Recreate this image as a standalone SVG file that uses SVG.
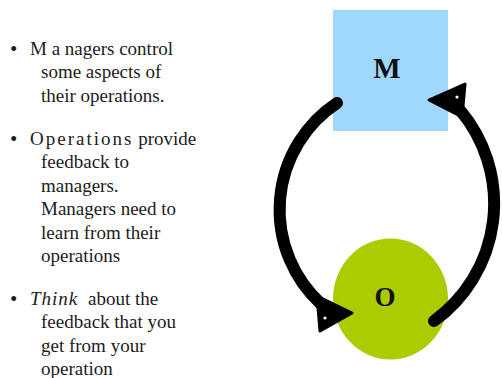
<svg xmlns="http://www.w3.org/2000/svg" width="502" height="378" viewBox="0 0 502 378">
<style>
.t{font-family:"Liberation Serif","Times New Roman",serif;font-size:19px;fill:#1c1c1c}
.b{font-family:"Liberation Serif","Times New Roman",serif;font-size:21px;fill:#1c1c1c}
.lbl{font-family:"Liberation Serif","Times New Roman",serif;font-weight:bold;fill:#111;text-anchor:middle}
.arc{fill:none;stroke:#000;stroke-width:12;stroke-linecap:round}
.head{fill:#000;stroke:#000;stroke-width:3;stroke-linejoin:round}
.hole{fill:#fff}
</style>
<rect width="502" height="378" fill="#fff"/>
<g id="bullets">
<text class="b" x="10" y="56">•</text>
<text class="t" x="30" y="55">M a nagers control</text>
<text class="t" x="41" y="78.4">some aspects of</text>
<text class="t" x="41" y="101.8">their operations.</text>
<text class="b" x="10" y="146">•</text>
<text class="t" x="30" y="145"><tspan letter-spacing="2">Operations</tspan> provide</text>
<text class="t" x="41" y="168.4">feedback to</text>
<text class="t" x="41" y="191.8">managers.</text>
<text class="t" x="41" y="215.2">Managers need to</text>
<text class="t" x="41" y="238.6">learn from their</text>
<text class="t" x="41" y="262">operations</text>
<text class="b" x="10" y="306">•</text>
<text class="t" x="30" y="305"><tspan font-style="italic" letter-spacing="1">Think</tspan><tspan x="88">about the</tspan></text>
<text class="t" x="41" y="328.4">feedback that you</text>
<text class="t" x="41" y="351.8">get from your</text>
<text class="t" x="41" y="375">operation</text>
</g>
<g id="node-M">
<rect x="333" y="10" width="115" height="121" fill="#a0d8fc"/>
<text class="lbl" x="387" y="78" font-size="29">M</text>
</g>
<g id="node-O">
<ellipse cx="390.5" cy="299" rx="57.5" ry="60.5" fill="#aacc00"/>
<text class="lbl" x="385" y="306" font-size="27">O</text>
</g>
<g id="connectors">
<path class="arc" d="M337,103 A128,128 0 0 0 321,304"/>
<polygon class="head" points="352,313 317,296 320,331"/>
<circle class="hole" cx="325" cy="318" r="1.6"/>
<path class="arc" d="M434,321 A145,145 0 0 0 460,110"/>
<polygon class="head" points="429,100 465,84 462,117"/>
<circle class="hole" cx="457" cy="97" r="1.6"/>
</g>
</svg>
